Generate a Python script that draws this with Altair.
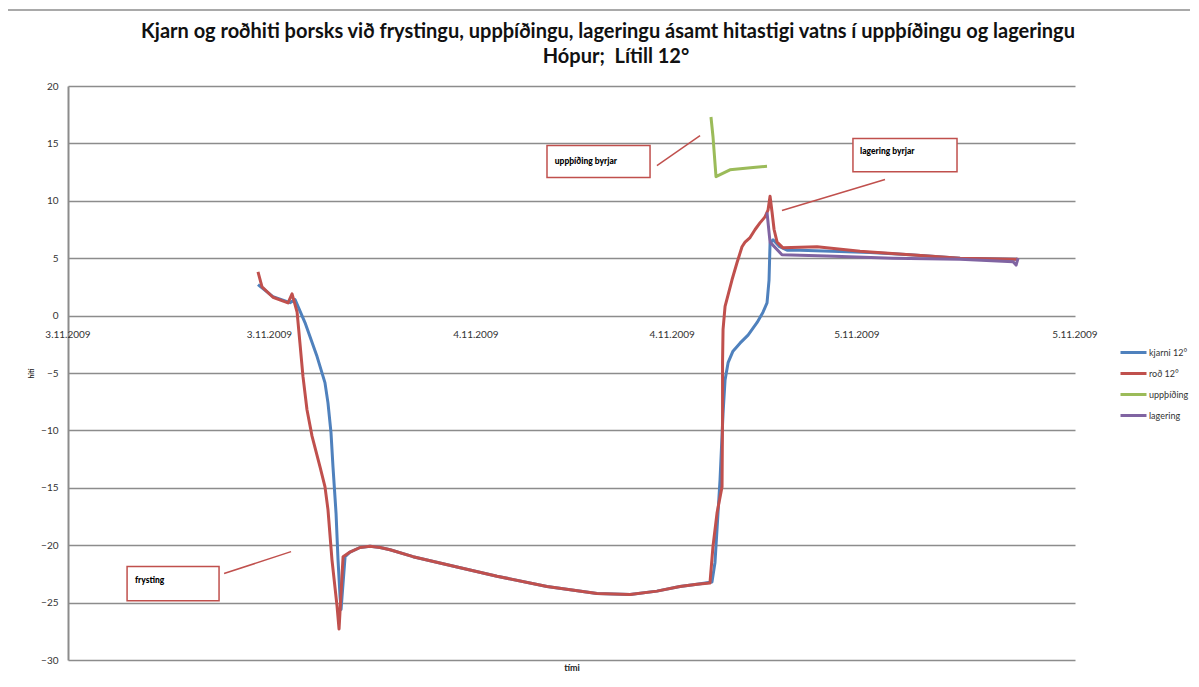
import altair as alt
import pandas as pd

# ---- data (hours from start, temperature °C) ----
kjarni_h = [11.32, 12.21, 13.23, 13.53, 14.12, 14.84, 15.31, 15.49, 15.67, 15.79, 15.97, 16.09, 16.21, 16.27,
            16.51, 16.80, 17.4, 18.0, 18.6, 19.19, 20.56, 23.18, 25.56, 28.54, 31.52, 33.49, 35.09, 36.46, 37.48,
            38.37, 38.55, 38.85, 39.03, 39.15, 39.33, 39.62, 40.04, 40.52, 41.06, 41.41, 41.65, 41.77, 41.83,
            42.01, 42.4, 42.84, 43.62, 47.79, 50.17, 53.15, 56.55]
kjarni_t = [2.7, 1.65, 1.13, 1.39, -0.61, -3.57, -5.84, -7.6, -10.2, -13.2, -17.2, -21.3, -24.5, -25.6,
            -21.0, -20.6, -20.2, -20.1, -20.2, -20.4, -21.0, -21.9, -22.7, -23.6, -24.2, -24.3, -24.0, -23.6, -23.4,
            -23.2, -21.5, -14.3, -8.5, -5.6, -4.1, -3.1, -2.4, -1.7, -0.6, 0.3, 1.1, 3.1, 6.3,
            6.6, 6.0, 5.7, 5.7, 5.5, 5.3, 5.0, 4.9]

rod_h = [11.32, 11.56, 12.21, 13.11, 13.35, 13.65, 13.82, 14.0, 14.24, 14.54, 15.02, 15.31, 15.49,
         15.73, 16.03, 16.15, 16.39, 16.80, 17.4, 17.99, 18.6, 19.19, 20.56, 23.18, 25.56, 28.54, 31.52, 33.49,
         35.09, 36.46, 37.48, 38.25, 38.43, 38.67, 38.97, 39.0, 39.0, 39.03, 39.15, 39.33, 39.56, 39.86,
         40.16, 40.34, 40.64, 40.94, 41.24, 41.53, 41.71, 41.83, 41.95, 42.07, 42.25, 42.60, 44.63, 47.19,
         50.17, 53.15, 56.55, 56.61]
rod_t = [3.8, 2.5, 1.6, 1.1, 1.9, 0.3, -2.4, -5.3, -8.2, -10.5, -13.2, -14.9, -16.9,
         -21.3, -25.3, -27.3, -21.0, -20.6, -20.2, -20.1, -20.2, -20.4, -21.0, -21.9, -22.7, -23.6, -24.2, -24.3,
         -24.0, -23.6, -23.4, -23.3, -20.1, -17.2, -14.9, -8.5, -4.1, -1.2, 0.8, 1.8, 3.1, 4.6,
         6.0, 6.4, 6.8, 7.5, 8.1, 8.6, 9.2, 10.4, 9.0, 7.5, 6.4, 5.9, 6.0, 5.6,
         5.3, 5.0, 4.9, 5.0]

upp_h = [38.31, 38.43, 38.61, 39.44, 40.82, 41.65]
upp_t = [17.3, 15.6, 12.1, 12.7, 12.9, 13.0]

lag_h = [41.65, 41.83, 42.54, 45.22, 49.16, 53.15, 56.31, 56.49, 56.61]
lag_t = [9.0, 6.4, 5.3, 5.2, 5.0, 4.9, 4.7, 4.4, 5.0]

series_names = ["kjarni 12°", "roð 12°", "uppþíðing", "lagering"]
series_colors = ["#4F81BD", "#C0504D", "#9BBB59", "#8064A2"]

x_tick_pos = [0, 12, 24.3, 36, 47, 60]
x_tick_labels = ["3.11.2009", "3.11.2009", "4.11.2009", "4.11.2009", "5.11.2009", "5.11.2009"]
y_ticks = [-30, -25, -20, -15, -10, -5, 0, 5, 10, 15, 20]

title_line1 = "Kjarn og roðhiti þorsks við frystingu, uppþíðingu, lageringu ásamt hitastigi vatns í uppþíðingu og lageringu"
title_line2 = "Hópur;\u00a0 Lítill 12°"

# annotations: label, box (h1,h2,t1,t2), text anchor (h,t), connector (h1,t1,h2,t2)
ann_labels = ["uppþíðing byrjar", "lagering byrjar", "frysting"]
ann_box_h1 = [28.54, 46.77, 3.52]
ann_box_h2 = [34.68, 52.97, 9.0]
ann_box_t1 = [14.81, 15.42, -21.86]
ann_box_t2 = [12.02, 12.54, -24.83]
ann_text_h = [29.0, 47.19, 3.99]
ann_text_t = [13.5, 14.3, -23.0]
ann_line_h1 = [35.09, 42.54, 9.3]
ann_line_t1 = [13.07, 9.15, -22.47]
ann_line_h2 = [37.66, 48.68, 13.29]
ann_line_t2 = [15.68, 11.85, -20.56]

# ---- build tables ----
rows = []
for name, hs, ts in zip(series_names, [kjarni_h, rod_h, upp_h, lag_h], [kjarni_t, rod_t, upp_t, lag_t]):
    for i, (h, t) in enumerate(zip(hs, ts)):
        rows.append({"series": name, "h": h, "t": t, "i": i})
df = pd.DataFrame(rows)

ticks_df = pd.DataFrame({"h": x_tick_pos, "label": x_tick_labels, "t": [0] * len(x_tick_pos)})
ann_df = pd.DataFrame({
    "label": ann_labels, "bh1": ann_box_h1, "bh2": ann_box_h2, "bt1": ann_box_t1, "bt2": ann_box_t2,
    "th": ann_text_h, "tt": ann_text_t, "lh1": ann_line_h1, "lt1": ann_line_t1,
    "lh2": ann_line_h2, "lt2": ann_line_t2,
})

FONT = "Lato"
W, H = 1007, 574

xscale = alt.Scale(domain=[0, 60], nice=False, zero=False)
yscale = alt.Scale(domain=[-30, 20], nice=False)

base_x = alt.X("h:Q", scale=xscale,
               axis=alt.Axis(title="tími", labels=False, ticks=False, domain=False, grid=False,
                             titleFontSize=9, titleFont=FONT, titleFontWeight="bold",
                             titleColor="#222", titlePadding=3))
base_y = alt.Y("t:Q", scale=yscale,
               axis=alt.Axis(title="hiti", values=y_ticks, ticks=False, grid=True,
                             gridColor="#8c8c8c", gridWidth=1.6, domainColor="#8c8c8c",
                             domainWidth=2, labelFontSize=10, labelFont=FONT, labelColor="#333",
                             labelPadding=10, titleFontSize=7, titleFont=FONT,
                             titleFontWeight="bold", titleColor="#222", titlePadding=6))

lines = alt.Chart(df).mark_line(strokeWidth=3, strokeJoin="round").encode(
    x=base_x, y=base_y,
    color=alt.Color("series:N", sort=series_names,
                    scale=alt.Scale(domain=series_names, range=series_colors),
                    legend=alt.Legend(title=None, orient="none", legendX=1051, legendY=252,
                                      symbolType="stroke", symbolStrokeWidth=3, symbolSize=676,
                                      rowPadding=-4, labelFontSize=9, labelFont=FONT,
                                      labelColor="#333", labelOffset=1)),
    order="i:Q",
)

xlabels = alt.Chart(ticks_df).mark_text(dy=19, fontSize=10, font=FONT, color="#333").encode(
    x=alt.X("h:Q", scale=xscale), y=alt.Y("t:Q", scale=yscale), text="label:N")

boxes = alt.Chart(ann_df).mark_rect(fill="white", stroke="#C0504D", strokeWidth=1.5).encode(
    x=alt.X("bh1:Q", scale=xscale), x2="bh2:Q", y=alt.Y("bt1:Q", scale=yscale), y2="bt2:Q")
conn = alt.Chart(ann_df).mark_rule(color="#C0504D", strokeWidth=1.5).encode(
    x=alt.X("lh1:Q", scale=xscale), x2="lh2:Q", y=alt.Y("lt1:Q", scale=yscale), y2="lt2:Q")
atext = alt.Chart(ann_df).mark_text(align="left", baseline="middle", fontSize=8.5, font=FONT,
                                    fontWeight=900, color="black").encode(
    x=alt.X("th:Q", scale=xscale), y=alt.Y("tt:Q", scale=yscale), text="label:N")

one = pd.DataFrame({"a": [0]})
border_top = alt.Chart(one).mark_rule(color="#8c8c8c", strokeWidth=1.5).encode(
    x=alt.value(-62), x2=alt.value(1131), y=alt.value(-76))
border_left = alt.Chart(one).mark_rule(color="#8c8c8c", strokeWidth=1.5).encode(
    x=alt.value(-62), y=alt.value(-76), y2=alt.value(601))

t1 = alt.Chart(one).mark_text(text=title_line1, font=FONT, fontSize=20, fontWeight="bold",
                              color="#111", align="center", baseline="alphabetic").encode(
    x=alt.value(540), y=alt.value(-48))
t2 = alt.Chart(one).mark_text(text=title_line2, font=FONT, fontSize=20, fontWeight="bold",
                              color="#111", align="center", baseline="alphabetic").encode(
    x=alt.value(548), y=alt.value(-23))

chart = alt.layer(border_top, border_left, t1, t2, lines, xlabels, conn, boxes, atext).properties(
    width=W, height=H,
    padding={"left": 60, "top": 78, "right": 115, "bottom": 18},
    autosize=alt.AutoSizeParams(type="none"),
).configure_view(stroke=None)

chart.save("out.html", embed_options={"renderer": "svg", "actions": False})
